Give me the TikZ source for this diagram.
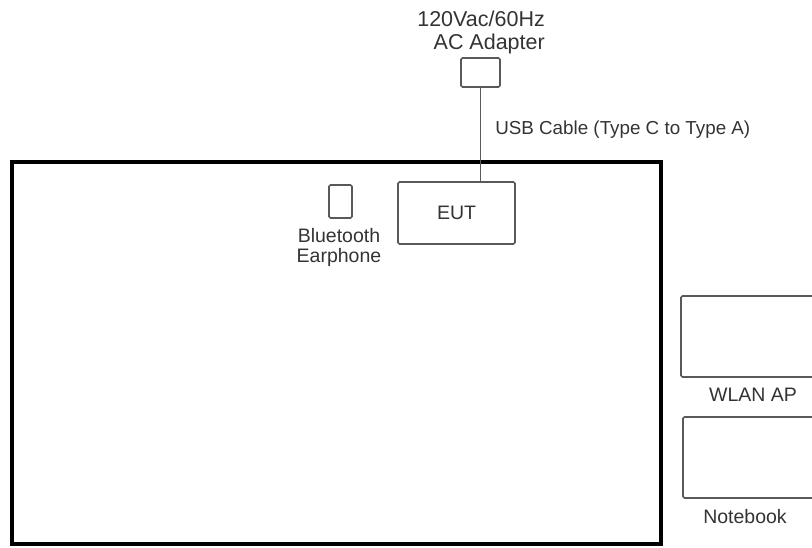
\documentclass[tikz,border=0pt]{standalone}
\usepackage{fontspec}
\setmainfont{Liberation Sans}
\usetikzlibrary{positioning}
\begin{document}
\begin{tikzpicture}[x=1pt,y=-1pt,
      device/.style={
        % The shape:
        rectangle,rounded corners=1.5pt,inner sep=0pt,
        % The rest
        line width=1.6pt,draw=black!65},
      lbl/.style={inner sep=0pt,text=black!80,font=\fontsize{19.5}{20}\selectfont}]
    \useasboundingbox (0,0) rectangle (812,547);
    % the table
    \node(table)[draw,line width=3.5pt,inner sep=0pt,minimum width=649pt,minimum height=382pt] at (336.5,353) {};
    \node(adapter)[device, minimum width=39pt, minimum height=29pt] at (480.5,72.5) {};
    \node(eut)[device, minimum width=117pt, minimum height=62pt, lbl, draw=black!65] at (456.5,213) {EUT};
    \node(ear)[device, minimum width=23pt, minimum height=33pt] at (340.5,201.5) {};
    \node(wlan)[device, minimum width=144pt, minimum height=81pt] at (753,336.5) {};
    \node(nb)[device, minimum width=134pt, minimum height=81pt] at (750,457.5) {};
    % labels
    \node(adtop)[lbl, anchor=base east, font=\fontsize{21.5}{23}\selectfont] at (545,26) {120Vac/60Hz};
    \node(adbot)[lbl, anchor=base east, font=\fontsize{21.5}{23}\selectfont] at (545,49) {AC Adapter};
    \node(earlbl)[lbl, anchor=base] at (339,242) {Bluetooth};
    \node(earlbl2)[lbl, anchor=base] at (339,262) {Earphone};
    \node(wlanlbl)[lbl, anchor=base] at (753,401) {WLAN AP};
    \node(nblbl)[lbl, anchor=base] at (745,523) {Notebook};
    % the cable
    \draw[line width=1.6pt, draw=black!65] (adapter.south) -- (adapter.south |- eut.north)
      node(usb)[lbl, pos=0.45, right=14pt, font=\fontsize{18.8}{20}\selectfont] {USB Cable (Type C to Type A)};
  \end{tikzpicture}
\end{document}
